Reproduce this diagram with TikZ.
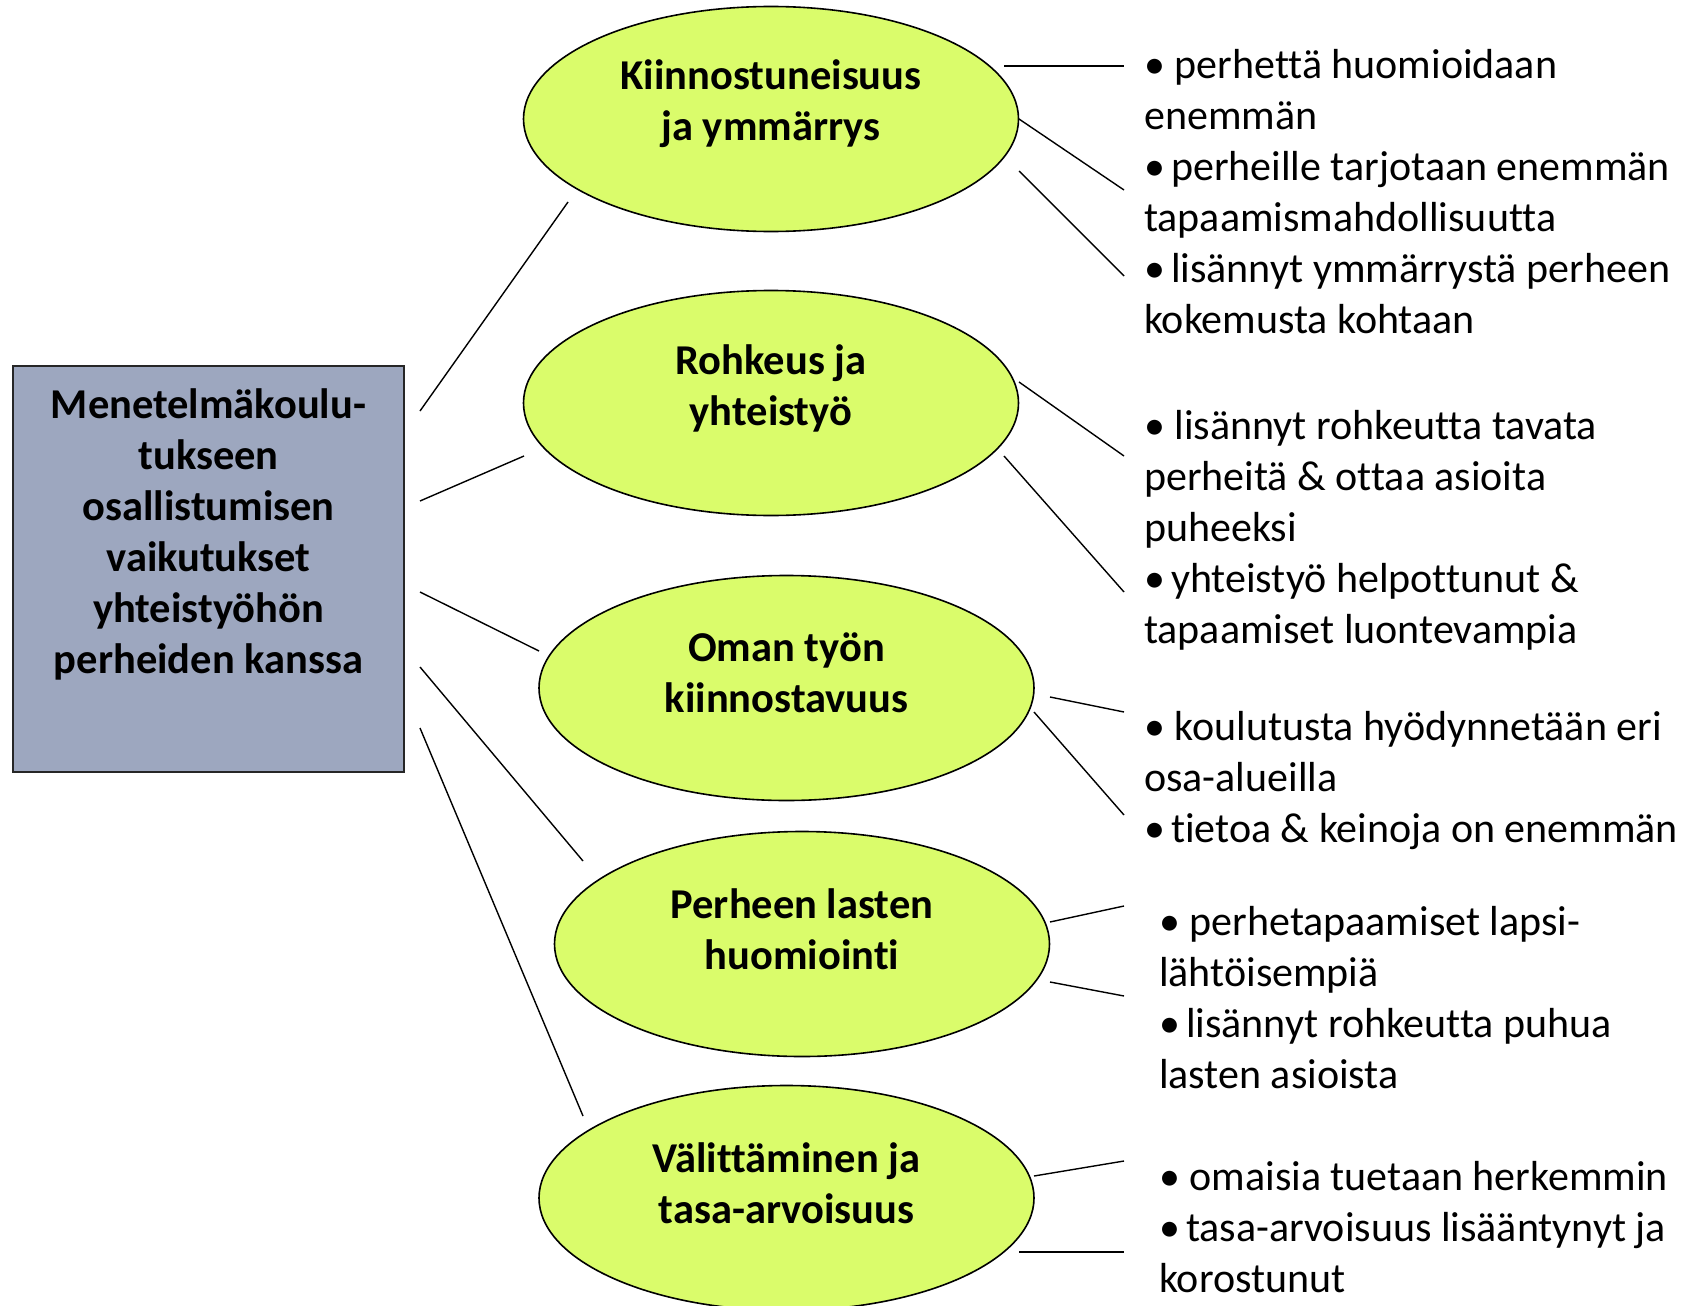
\documentclass[tikz,border=0pt]{standalone}
\usepackage{fontspec}
\setmainfont{Carlito}[Ligatures=NoCommon]
\usetikzlibrary{shapes.geometric}
\definecolor{boxfill}{RGB}{157,167,191}
\definecolor{ovalfill}{RGB}{218,252,107}
% bullet followed by a wide or a narrow gap
\newcommand{\bwide}{•\ }
\newcommand{\bnarrow}{•\hspace{6pt}}
\begin{document}
\begin{tikzpicture}[x=1pt,y=-1pt,
  oval/.style={ellipse, draw=black, line width=1.6pt, fill=ovalfill,
    minimum width=495pt, minimum height=225pt, inner sep=0pt},
  hub/.style={rectangle, draw=black!85, line width=1.6pt, fill=boxfill,
    minimum width=391pt, minimum height=406pt, inner sep=0pt},
  link/.style={line width=1.4pt},
  head/.style={font=\fontsize{42.5}{51}\selectfont\bfseries, align=center, inner sep=0pt},
  note/.style={font=\fontsize{42}{51}\selectfont, align=left, anchor=north west, inner sep=0pt}]

\useasboundingbox (0,0) rectangle (1700,1306);

% central box
\node[hub] (hub) at (208.5,569) {};
\node[head] (hubtext) at (208.5,534) {Menetelmäkoulu-\\tukseen\\osallistumisen\\vaikutukset\\yhteistyöhön\\perheiden kanssa};

% ovals
\node[oval] (o1) at (771,119) {};
\node[oval] (o2) at (771,403) {};
\node[oval] (o3) at (786.5,688) {};
\node[oval] (o4) at (802,944) {};
\node[oval] (o5) at (786.5,1198) {};
\node[head] (t1) at (771,104) {Kiinnostuneisuus\\ja ymmärrys};
\node[head] (t2) at (771,388) {Rohkeus ja\\yhteistyö};
\node[head] (t3) at (786.5,673) {Oman työn\\kiinnostavuus};
\node[head] (t4) at (802,929) {Perheen lasten\\huomiointi};
\node[head] (t5) at (786.5,1183) {Välittäminen ja\\tasa-arvoisuus};

% bullet lists
\node[note] (n1) at (1144,49) {\bwide perhettä huomioidaan\\enemmän\\\bnarrow perheille tarjotaan enemmän\\tapaamismahdollisuutta\\\bnarrow lisännyt ymmärrystä perheen\\kokemusta kohtaan};
\node[note] (n2) at (1144,410) {\bwide lisännyt rohkeutta tavata\\perheitä \& ottaa asioita\\puheeksi\\\bnarrow yhteistyö helpottunut \&\\tapaamiset luontevampia};
\node[note] (n3) at (1144,711) {\bwide koulutusta hyödynnetään eri\\osa-alueilla\\\bnarrow tietoa \& keinoja on enemmän};
\node[note] (n4) at (1159,906) {\bwide perhetapaamiset lapsi-\\lähtöisempiä\\\bnarrow lisännyt rohkeutta puhua\\lasten asioista};
\node[note] (n5) at (1159,1161) {\bwide omaisia tuetaan herkemmin\\\bnarrow tasa-arvoisuus lisääntynyt ja\\korostunut};

% connector end points
\coordinate (h1) at (420,411);  \coordinate (a1) at (568,202);
\coordinate (h2) at (420,501);  \coordinate (a2) at (524,456);
\coordinate (h3) at (420,592);  \coordinate (a3) at (539,651);
\coordinate (h4) at (420,667);  \coordinate (a4) at (583,861);
\coordinate (h5) at (420,728);  \coordinate (a5) at (583,1116);

\coordinate (p1a) at (1004,66);  \coordinate (q1a) at (1124,66);
\coordinate (p1b) at (1019,119); \coordinate (q1b) at (1124,190);
\coordinate (p1c) at (1019,171); \coordinate (q1c) at (1124,276);
\coordinate (p2a) at (1019,382); \coordinate (q2a) at (1124,456);
\coordinate (p2b) at (1004,456); \coordinate (q2b) at (1124,592);
\coordinate (p3a) at (1050,697); \coordinate (q3a) at (1124,712);
\coordinate (p3b) at (1034,712); \coordinate (q3b) at (1124,815);
\coordinate (p4a) at (1050,922); \coordinate (q4a) at (1124,906);
\coordinate (p4b) at (1050,982); \coordinate (q4b) at (1124,996);
\coordinate (p5a) at (1034,1176); \coordinate (q5a) at (1124,1161);
\coordinate (p5b) at (1019,1252); \coordinate (q5b) at (1124,1252);

% connectors
\draw[link] (h1) -- (a1);
\draw[link] (h2) -- (a2);
\draw[link] (h3) -- (a3);
\draw[link] (h4) -- (a4);
\draw[link] (h5) -- (a5);
\draw[link] (p1a) -- (q1a);
\draw[link] (p1b) -- (q1b);
\draw[link] (p1c) -- (q1c);
\draw[link] (p2a) -- (q2a);
\draw[link] (p2b) -- (q2b);
\draw[link] (p3a) -- (q3a);
\draw[link] (p3b) -- (q3b);
\draw[link] (p4a) -- (q4a);
\draw[link] (p4b) -- (q4b);
\draw[link] (p5a) -- (q5a);
\draw[link] (p5b) -- (q5b);
\end{tikzpicture}
\end{document}
